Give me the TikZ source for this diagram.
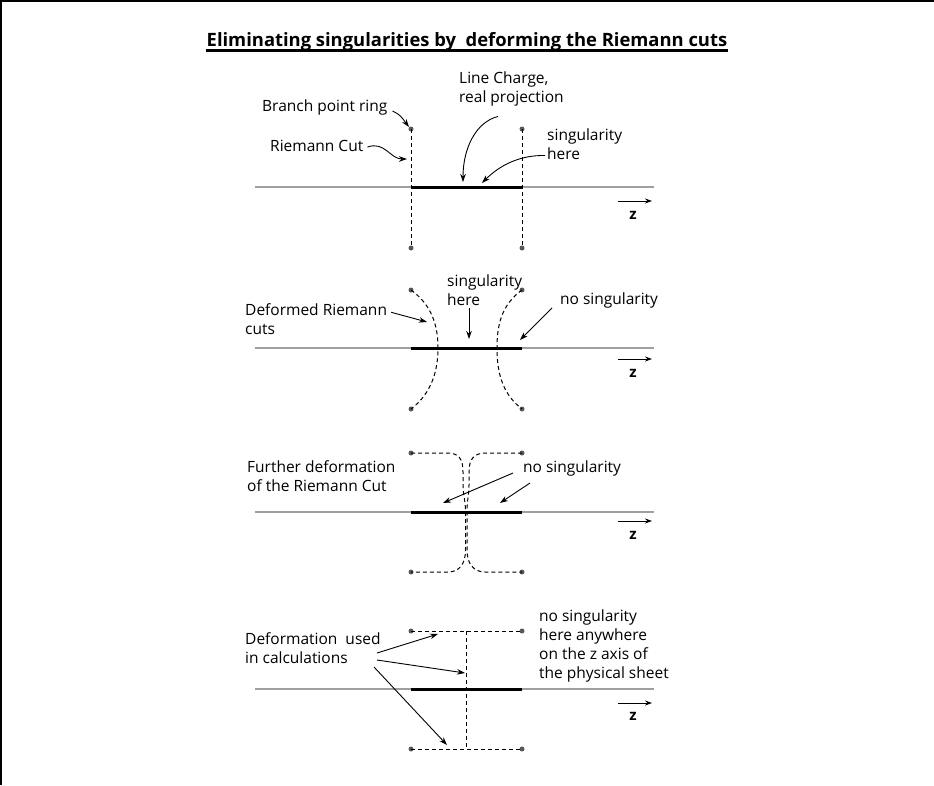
\documentclass[tikz,border=0pt]{standalone}
\usepackage{fontspec}
\setmainfont{Open Sans}
\usetikzlibrary{arrows.meta,positioning,calc}

\begin{document}
\begin{tikzpicture}[
    x=1pt, y=-1pt,
    lbl/.style={align=left, anchor=west, inner sep=0pt, font=\fontsize{15.5}{19}\selectfont},
    heading/.style={anchor=base, inner sep=0pt, font=\fontsize{18.4}{22}\selectfont\bfseries},
    zlbl/.style={inner sep=0pt, font=\fontsize{15}{18}\selectfont\bfseries},
    axis/.style={draw=gray!75, line width=1.2pt},
    charge/.style={line width=3pt},
    cut/.style={dash pattern=on 4pt off 3pt, line width=1pt},
    ring/.style={circle, fill=black!65, inner sep=0pt, minimum size=5pt},
    arrow/.style={-{Stealth[length=8pt,width=5.5pt]}, line width=0.9pt},
    zarrow/.style={-{Stealth[length=7pt,width=5pt]}, line width=1pt}
]
    \useasboundingbox (0,0) rectangle (934,785);
    \draw[line width=1.5pt] (0.75,785) -- (0.75,0.75) -- (934,0.75);

    % title
    \node[heading] (title) at (467,46) {Eliminating singularities by\ \ deforming the Riemann cuts};
    \draw[line width=2.8pt] ($(title.base west)+(-1,4.5)$) -- ($(title.base east)+(1,4.5)$);

    % panel 1: straight cuts
    \draw[axis] (255,187) -- (654,187);
    \node[ring] (a1) at (411,129) {};
    \node[ring] (b1) at (522,129) {};
    \node[ring] (c1) at (411,248) {};
    \node[ring] (d1) at (522,248) {};
    \draw[cut] (a1.center) -- (c1.center);
    \draw[cut] (b1.center) -- (d1.center);
    \coordinate (p1) at (411,187);
    \coordinate (q1) at (522,187);
    \draw[charge] (p1) -- (q1);
    \coordinate (za1) at (618,201);
    \coordinate (zb1) at (652,201);
    \draw[zarrow] (za1) -- (zb1);
    \node[zlbl] (z1) at (633,215) {z};

    \node[lbl] (ring) at (262,107) {Branch point ring};
    \node[lbl] (cutlbl) at (270,146) {Riemann Cut};
    \node[lbl] (charge) at (459,89) {Line Charge,\\real projection};
    \node[lbl] (sing1) at (547,144.5) {singularity\\here};
    \coordinate (tipring) at (409,127);
    \coordinate (tipcut) at (407,159);
    \coordinate (tipcharge) at (463,182);
    \coordinate (tipsing1) at (482,183);
    \draw[arrow] ($(ring.east)+(5,4)$) .. controls (400,115) .. (tipring);
    \draw[arrow] ($(cutlbl.east)+(4,1)$) .. controls (385,141) and (390,159) .. (tipcut);
    \draw[arrow] ($(charge.south west)+(39,10)$) .. controls (476,122) and (463,148) .. (tipcharge);
    \draw[arrow] ($(sing1.west)+(-2,11)$) .. controls (520,155) and (500,165) .. (tipsing1);

    % panel 2: bent cuts
    \draw[axis] (255,348) -- (654,348);
    \node[ring] (a2) at (411,290) {};
    \node[ring] (b2) at (522,290) {};
    \node[ring] (c2) at (411,409) {};
    \node[ring] (d2) at (522,409) {};
    \draw[cut] (a2.center) .. controls (432,305) and (438,326) .. (438,348)
        .. controls (438,370) and (432,393) .. (c2.center);
    \draw[cut] (b2.center) .. controls (501,305) and (497,326) .. (497,348)
        .. controls (497,370) and (501,393) .. (d2.center);
    \coordinate (p2) at (411,348);
    \coordinate (q2) at (522,348);
    \draw[charge] (p2) -- (q2);
    \coordinate (za2) at (618,359);
    \coordinate (zb2) at (652,359);
    \draw[zarrow] (za2) -- (zb2);
    \node[zlbl] (z2) at (633,373) {z};

    \node[lbl] (deformed) at (245,319) {Deformed Riemann\\cuts};
    \node[lbl] (sing2) at (447,290) {singularity\\here};
    \node[lbl] (nosing2) at (560,300) {no singularity};
    \coordinate (tipdef) at (427,322);
    \coordinate (tipsing2) at (469,339);
    \coordinate (tipnosing2) at (520,340);
    \draw[arrow] ($(deformed.north east)+(4,9)$) -- (tipdef);
    \draw[arrow] (469,308) -- (tipsing2);
    \draw[arrow] ($(nosing2.west)+(-8,8)$) -- (tipnosing2);

    % panel 3: cuts pulled together
    \draw[axis] (255,512) -- (654,512);
    \node[ring] (a3) at (411,453) {};
    \node[ring] (b3) at (522,453) {};
    \node[ring] (c3) at (411,572) {};
    \node[ring] (d3) at (522,572) {};
    \draw[cut] (a3.center) -- (447,453) .. controls (459,453) and (463,459) .. (463,472)
        -- (463,485) .. controls (463,495) and (465.5,500) .. (465.5,512) -- (465.5,550)
        .. controls (465.5,563) and (460,572) .. (448,572) -- (c3.center);
    \draw[cut] (b3.center) -- (486,453) .. controls (474,453) and (469,459) .. (469,472)
        -- (469,485) .. controls (469,495) and (467,500) .. (467,512) -- (467,550)
        .. controls (467,563) and (473,572) .. (485,572) -- (d3.center);
    \coordinate (p3) at (411,512);
    \coordinate (q3) at (522,512);
    \draw[charge] (p3) -- (q3);
    \coordinate (za3) at (618,521);
    \coordinate (zb3) at (652,521);
    \draw[zarrow] (za3) -- (zb3);
    \node[zlbl] (z3) at (633,535) {z};

    \node[lbl] (further) at (247,476) {Further deformation\\of the Riemann Cut};
    \node[lbl] (nosing3) at (523,468) {no singularity};
    \coordinate (tipnosing3a) at (443,503);
    \coordinate (tipnosing3b) at (500,503);
    \draw[arrow] ($(nosing3.west)+(-10,5)$) -- (tipnosing3a);
    \draw[arrow] ($(nosing3.west)+(7,15)$) -- (tipnosing3b);

    % panel 4: cut used in the calculations
    \draw[axis] (255,689) -- (654,689);
    \node[ring] (a4) at (411,631) {};
    \node[ring] (b4) at (522,631) {};
    \node[ring] (c4) at (411,749) {};
    \node[ring] (d4) at (522,749) {};
    \draw[cut] (a4.center) -- (b4.center);
    \draw[cut] (c4.center) -- (d4.center);
    \coordinate (m4) at (466,631);
    \coordinate (n4) at (466,749);
    \draw[cut] (m4) -- (n4);
    \coordinate (p4) at (411,689);
    \coordinate (q4) at (522,689);
    \draw[charge] (p4) -- (q4);
    \coordinate (za4) at (618,703);
    \coordinate (zb4) at (652,703);
    \draw[zarrow] (za4) -- (zb4);
    \node[zlbl] (z4) at (633,716) {z};

    \node[lbl] (used) at (245,648) {Deformation\ \ used\\in calculations};
    \node[lbl] (nosing4) at (539,646) {no singularity\\here anywhere\\on the z axis of\\the physical sheet};
    \coordinate (tipused1) at (438,634);
    \coordinate (tipused2) at (465,673);
    \coordinate (tipused3) at (447,745);
    \draw[arrow] (377,653) -- (tipused1);
    \draw[arrow] (377,660) -- (tipused2);
    \draw[arrow] (374,667) -- (tipused3);
\end{tikzpicture}
\end{document}
